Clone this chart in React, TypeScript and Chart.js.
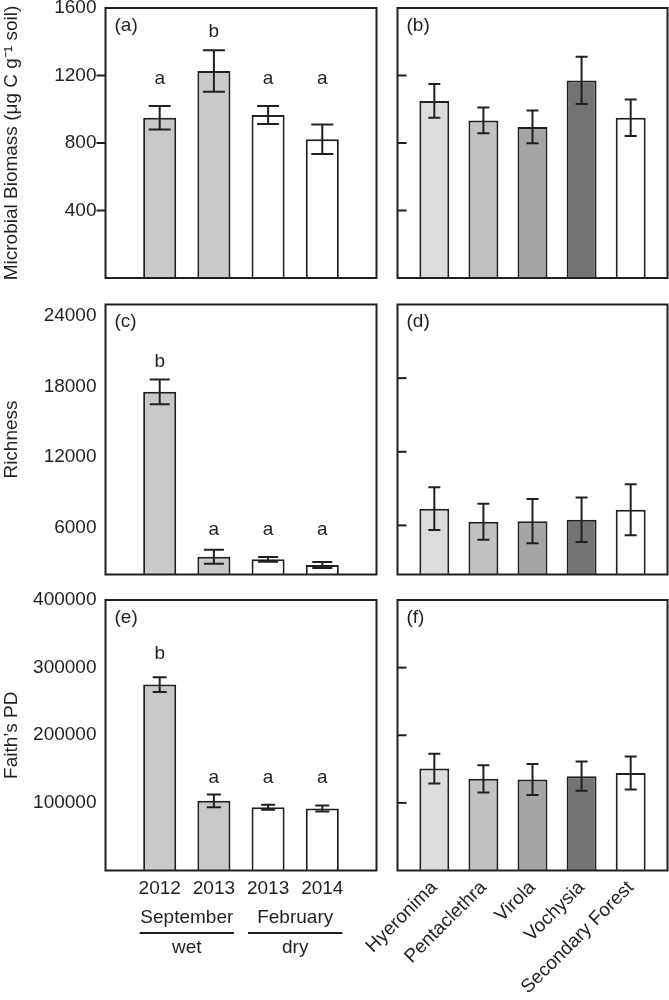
import React, { useEffect, useRef } from 'react';
import { Chart, registerables } from 'chart.js';

Chart.register(...registerables);

const FONT = "'Liberation Sans', Arial, Helvetica, sans-serif";
const INK = '#231f20';

// ---------- categories ----------
const seasonYears = ['2012', '2013', '2013', '2014'];
const seasonColors = ['#c8c9cb', '#c8c9cb', '#ffffff', '#ffffff'];
const seasonGroups = ['September', 'February'];
const seasonGroupSub = ['wet', 'dry'];
const seasonGroupMembers = [[1, 2], [3, 4]];

const species = ['Hyeronima', 'Pentaclethra', 'Virola', 'Vochysia', 'Secondary Forest'];
const speciesColors = ['#dcdcde', '#c0c1c3', '#a5a5a8', '#737376', '#ffffff'];

// ---------- microbial biomass ----------
const biomassSeason = [950, 1227, 966, 822];
const biomassSeasonErr = [70, 123, 54, 87];
const biomassSeasonLetters = ['a', 'b', 'a', 'a'];
const biomassSeasonLetterY = [1180, 1460, 1180, 1180];
const biomassSpecies = [1049, 934, 895, 1171, 950];
const biomassSpeciesErr = [100, 76, 97, 140, 108];
const biomassTicks = [400, 800, 1200, 1600];
const biomassMarks = [400, 800, 1200];

// ---------- richness ----------
const richnessSeason = [17560, 3515, 3294, 2809];
const richnessSeasonErr = [1060, 600, 200, 255];
const richnessSeasonLetters = ['b', 'a', 'a', 'a'];
const richnessSeasonLetterY = [20100, 5850, 5850, 5850];
const richnessSpecies = [7360, 6300, 6348, 6462, 7278];
const richnessSpeciesErr = [1740, 1470, 1800, 1820, 2070];
const richnessTicks = [6000, 12000, 18000, 24000];
const richnessMarks = [6000, 12000, 18000];

// ---------- Faith's PD ----------
const pdSeason = [274900, 103000, 93600, 91700];
const pdSeasonErr = [11000, 9400, 3700, 4600];
const pdSeasonLetters = ['b', 'a', 'a', 'a'];
const pdSeasonLetterY = [320000, 137000, 137000, 137000];
const pdSpecies = [150800, 135500, 134500, 139400, 144300];
const pdSpeciesErr = [22000, 20000, 23000, 21600, 24400];
const pdTicks = [100000, 200000, 300000, 400000];
const pdMarks = [100000, 200000, 300000];

const W = 669;
const H = 1000;
const LEFT_COL = [105.5, 376.5];
const RIGHT_COL = [397.5, 667.5];
const ROWS = [[8, 278], [304.5, 574.5], [600, 870.5]];

type PanelSpec = {
  tag: string;
  col: number[];
  row: number[];
  values: number[];
  errors: number[];
  colors: string[];
  xMin: number;
  xMax: number;
  yMin: number;
  yMax: number;
  yTicks: number[];
  marks: number[];
  markDir: 'in' | 'out' | 'none';
  title?: string;
  letters?: string[];
  letterY?: number[];
  xLabels?: string[];
  rotate?: boolean;
  groups?: boolean;
  cap: number;
};

const panels: PanelSpec[] = [
  {
    tag: 'a', col: LEFT_COL, row: ROWS[0], values: biomassSeason, errors: biomassSeasonErr,
    colors: seasonColors, xMin: 0, xMax: 5, yMin: 0, yMax: 1600, yTicks: biomassTicks,
    marks: biomassMarks, markDir: 'out', title: 'Microbial Biomass (μg C g⁻¹ soil)',
    letters: biomassSeasonLetters, letterY: biomassSeasonLetterY, cap: 22,
  },
  {
    tag: 'b', col: RIGHT_COL, row: ROWS[0], values: biomassSpecies, errors: biomassSpeciesErr,
    colors: speciesColors, xMin: 0.25, xMax: 5.75, yMin: 0, yMax: 1600, yTicks: [],
    marks: biomassMarks, markDir: 'in', cap: 12,
  },
  {
    tag: 'c', col: LEFT_COL, row: ROWS[1], values: richnessSeason, errors: richnessSeasonErr,
    colors: seasonColors, xMin: 0, xMax: 5, yMin: 2000, yMax: 25000, yTicks: richnessTicks,
    marks: [], markDir: 'none', title: 'Richness',
    letters: richnessSeasonLetters, letterY: richnessSeasonLetterY, cap: 20,
  },
  {
    tag: 'd', col: RIGHT_COL, row: ROWS[1], values: richnessSpecies, errors: richnessSpeciesErr,
    colors: speciesColors, xMin: 0.25, xMax: 5.75, yMin: 2000, yMax: 24000, yTicks: [],
    marks: richnessMarks, markDir: 'in', cap: 12,
  },
  {
    tag: 'e', col: LEFT_COL, row: ROWS[2], values: pdSeason, errors: pdSeasonErr,
    colors: seasonColors, xMin: 0, xMax: 5, yMin: 0, yMax: 400000, yTicks: pdTicks,
    marks: [], markDir: 'none', title: 'Faith’s PD',
    letters: pdSeasonLetters, letterY: pdSeasonLetterY, xLabels: seasonYears, groups: true, cap: 14,
  },
  {
    tag: 'f', col: RIGHT_COL, row: ROWS[2], values: pdSpecies, errors: pdSpeciesErr,
    colors: speciesColors, xMin: 0.25, xMax: 5.75, yMin: 0, yMax: 400000, yTicks: [],
    marks: pdMarks, markDir: 'in', xLabels: species, rotate: true, cap: 12,
  },
];

function buildConfig(p: PanelSpec): any {
  const [L, R] = p.col;
  const [T, B] = p.row;
  const font = { family: FONT, size: 19 };

  const overlay = {
    id: 'overlay',
    afterDatasetsDraw(chart: any) {
      const ctx = chart.ctx;
      const xs = chart.scales.x;
      const ys = chart.scales.y;
      const ca = chart.chartArea;
      ctx.save();
      ctx.strokeStyle = INK;
      ctx.fillStyle = INK;
      ctx.lineWidth = 2;
      ctx.lineCap = 'butt';
      // error bars
      p.values.forEach((v, i) => {
        const x = xs.getPixelForValue(i + 1);
        const y1 = ys.getPixelForValue(v + p.errors[i]);
        const y2 = ys.getPixelForValue(v - p.errors[i]);
        const h = p.cap / 2;
        ctx.beginPath();
        ctx.moveTo(x, y1);
        ctx.lineTo(x, y2);
        ctx.moveTo(x - h, y1);
        ctx.lineTo(x + h, y1);
        ctx.moveTo(x - h, y2);
        ctx.lineTo(x + h, y2);
        ctx.stroke();
      });
      // tick marks
      p.marks.forEach((m) => {
        const y = ys.getPixelForValue(m);
        ctx.beginPath();
        if (p.markDir === 'out') {
          ctx.moveTo(ca.left - 9, y);
          ctx.lineTo(ca.left, y);
        } else if (p.markDir === 'in') {
          ctx.moveTo(ca.left, y);
          ctx.lineTo(ca.left + 9, y);
        }
        ctx.stroke();
      });
      // frame
      ctx.strokeRect(ca.left, ca.top, ca.right - ca.left, ca.bottom - ca.top);
      // texts
      ctx.font = `19px ${FONT}`;
      ctx.textBaseline = 'middle';
      ctx.textAlign = 'left';
      ctx.fillText(`(${p.tag})`, ca.left + 9, ca.top + 17.5);
      ctx.textAlign = 'center';
      if (p.letters && p.letterY) {
        p.letters.forEach((s, i) => {
          ctx.fillText(s, xs.getPixelForValue(i + 1), ys.getPixelForValue(p.letterY![i]));
        });
      }
      if (p.groups) {
        const slot = xs.getPixelForValue(2) - xs.getPixelForValue(1);
        seasonGroups.forEach((g, gi) => {
          const mem = seasonGroupMembers[gi];
          const cx = (xs.getPixelForValue(mem[0]) + xs.getPixelForValue(mem[mem.length - 1])) / 2;
          ctx.fillText(g, cx, ca.bottom + 47.5);
          ctx.beginPath();
          ctx.moveTo(cx - 0.87 * slot, ca.bottom + 62.5);
          ctx.lineTo(cx + 0.87 * slot, ca.bottom + 62.5);
          ctx.stroke();
          ctx.fillText(seasonGroupSub[gi], cx, ca.bottom + 77.5);
        });
      }
      ctx.restore();
    },
  };

  const zeroPad = (s: any) => {
    s.paddingTop = 0;
    s.paddingBottom = 0;
    s.paddingLeft = 0;
    s.paddingRight = 0;
  };

  return {
    type: 'bar',
    data: {
      datasets: [
        {
          data: p.values.map((v, i) => ({ x: i + 1, y: v })),
          backgroundColor: p.colors,
          borderColor: INK,
          borderWidth: 2,
          barPercentage: 0.61,
          categoryPercentage: 1,
        },
      ],
    },
    options: {
      responsive: false,
      animation: false,
      devicePixelRatio: 1,
      events: [],
      layout: {
        autoPadding: false,
        padding: { left: 0, top: T, right: W - R, bottom: 0 },
      },
      plugins: { legend: { display: false }, tooltip: { enabled: false } },
      scales: {
        x: {
          type: 'linear',
          min: p.xMin,
          max: p.xMax,
          offset: false,
          afterBuildTicks: (s: any) => {
            s.ticks = p.values.map((_, i) => ({ value: i + 1 }));
          },
          afterFit: (s: any) => {
            s.height = H - B;
            zeroPad(s);
          },
          grid: { display: false, drawTicks: false },
          border: { display: false },
          ticks: {
            display: !!p.xLabels,
            autoSkip: false,
            padding: p.rotate ? 6 : 7,
            minRotation: p.rotate ? 45 : 0,
            maxRotation: p.rotate ? 45 : 0,
            color: INK,
            font,
            callback: (_v: any, i: number) => (p.xLabels ? p.xLabels[i] : ''),
          },
        },
        y: {
          type: 'linear',
          min: p.yMin,
          max: p.yMax,
          afterBuildTicks: (s: any) => {
            s.ticks = p.yTicks.map((v) => ({ value: v }));
          },
          afterFit: (s: any) => {
            s.width = L;
            zeroPad(s);
          },
          grid: { display: false, drawTicks: false },
          border: { display: false },
          ticks: {
            display: p.yTicks.length > 0,
            autoSkip: false,
            padding: 9,
            color: INK,
            font,
            callback: (v: any) => String(v),
          },
          title: {
            display: !!p.title,
            text: p.title || '',
            color: INK,
            font,
            padding: { top: 0, bottom: 0 },
          },
        },
      },
    },
    plugins: [overlay],
  };
}

function Panel({ spec }: { spec: PanelSpec }) {
  const ref = useRef<HTMLCanvasElement | null>(null);
  useEffect(() => {
    if (!ref.current) return;
    const chart = new Chart(ref.current, buildConfig(spec));
    return () => chart.destroy();
  }, [spec]);
  return (
    <canvas
      ref={ref}
      width={W}
      height={H}
      style={{ position: 'absolute', left: 0, top: 0, width: W, height: H }}
    />
  );
}

export default function App() {
  return (
    <div style={{ position: 'absolute', left: 0, top: 0, width: W, height: H, background: '#ffffff' }}>
      {panels.map((p) => (
        <Panel key={p.tag} spec={p} />
      ))}
    </div>
  );
}
